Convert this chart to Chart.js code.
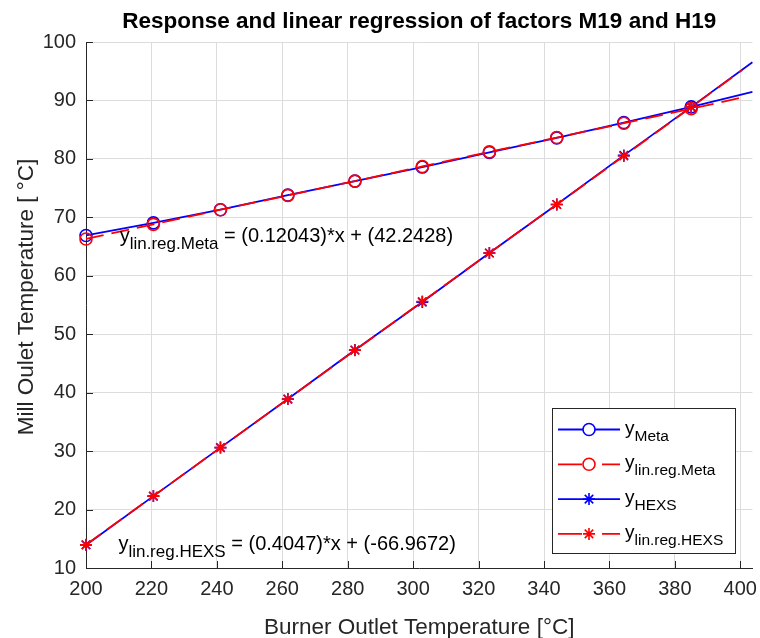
<!DOCTYPE html>
<html>
<head>
<meta charset="utf-8">
<script src="https://cdn.jsdelivr.net/npm/chart.js@4.4.0/dist/chart.umd.min.js"></script>
<style>
html,body{margin:0;padding:0;background:#ffffff;}
#wrap{width:760px;height:638px;}
</style>
</head>
<body>
<div id="wrap"><canvas id="c" width="760" height="638"></canvas></div>
<script>
// ---------- data ----------
const xMarkers      = [200, 220.6, 241.1, 261.7, 282.2, 302.8, 323.3, 343.9, 364.4, 385.0];
const xLineEnd      = 403.7;   // measured curves continue to the right edge
const xRegEnd       = 400.6;   // regression lines stop a little earlier
const metaValues    = [66.9, 69.05, 71.3, 73.8, 76.2, 78.6, 81.1, 83.6, 86.2, 88.9, 91.45];
const metaRegValues = [66.3, 68.8, 71.3, 73.75, 76.2, 78.7, 81.2, 83.65, 86.1, 88.6, 90.5];
const hexsValues    = [13.95, 22.3, 30.6, 38.9, 47.3, 55.5, 63.9, 72.2, 80.6, 88.9, 96.55];
const hexsRegValues = [13.97, 22.3, 30.6, 38.9, 47.25, 55.6, 63.9, 72.2, 80.5, 88.85, 95.2];
const xTicks        = [200, 220, 240, 260, 280, 300, 320, 340, 360, 380, 400];
const yTicks        = [10, 20, 30, 40, 50, 60, 70, 80, 90, 100];
const titleText     = 'Response and linear regression of factors M19 and H19';
const xLabelText    = 'Burner Outlet Temperature [°C]';
const yLabelText    = 'Mill Oulet Temperature [ °C]';
const legendItems   = [
  {base: 'y', sub: 'Meta',          color: '#0000ff', marker: 'circle', dashed: false},
  {base: 'y', sub: 'lin.reg.Meta',  color: '#ff0000', marker: 'circle', dashed: true},
  {base: 'y', sub: 'HEXS',          color: '#0000ff', marker: 'star',   dashed: false},
  {base: 'y', sub: 'lin.reg.HEXS',  color: '#ff0000', marker: 'star',   dashed: true}
];
const annotations = [
  {x: 210.3, y: 65.75, base: 'y', sub: 'lin.reg.Meta', rest: ' = (0.12043)*x + (42.2428)'},
  {x: 209.9, y: 13.1,  base: 'y', sub: 'lin.reg.HEXS', rest: ' = (0.4047)*x + (-66.9672)'}
];

// ---------- style ----------
const FF = '"Liberation Sans", Arial, Helvetica, sans-serif';
const AX = '#262626';
const GRID = '#dcdcdc';
const BLUE = '#0000ff', RED = '#ff0000';

function pts(xs, ys) { return ys.map((v, i) => ({x: xs[i], y: v})); }
const xLine = xMarkers.concat([xLineEnd]);
const xReg  = xMarkers.concat([xRegEnd]);
const markR = xMarkers.map(() => 6).concat([0]);

function drawStar(ctx, x, y, r) {
  ctx.beginPath();
  ctx.moveTo(x - r, y); ctx.lineTo(x + r, y);
  ctx.moveTo(x, y - r); ctx.lineTo(x, y + r);
  const d = r * Math.SQRT1_2;
  ctx.moveTo(x - d, y - d); ctx.lineTo(x + d, y + d);
  ctx.moveTo(x - d, y + d); ctx.lineTo(x + d, y - d);
  ctx.stroke();
}
function drawSubText(ctx, x, baseline, base, sub, rest, bSize, sSize, drop) {
  ctx.textAlign = 'left';
  ctx.textBaseline = 'alphabetic';
  ctx.font = bSize + 'px ' + FF;
  ctx.fillText(base, x, baseline);
  x += ctx.measureText(base).width;
  ctx.font = sSize + 'px ' + FF;
  ctx.fillText(sub, x, baseline + drop);
  x += ctx.measureText(sub).width;
  if (rest) {
    ctx.font = bSize + 'px ' + FF;
    ctx.fillText(rest, x, baseline);
  }
}

const decor = {
  id: 'decor',
  beforeDatasetsDraw(chart) {
    const {ctx, chartArea: a, scales: {x, y}} = chart;
    ctx.save();
    ctx.strokeStyle = AX; ctx.lineWidth = 1;
    ctx.beginPath();
    xTicks.forEach(v => { const p = Math.round(x.getPixelForValue(v)) + 0.5; ctx.moveTo(p, a.bottom); ctx.lineTo(p, a.bottom - 7); });
    yTicks.forEach(v => { const p = Math.round(y.getPixelForValue(v)) + 0.5; ctx.moveTo(a.left, p); ctx.lineTo(a.left + 7, p); });
    ctx.stroke();
    ctx.restore();
  },
  afterDraw(chart) {
    const {ctx, chartArea: a, scales: {x, y}} = chart;
    ctx.save();
    ctx.fillStyle = '#000000';
    // title
    ctx.font = 'bold 22.5px ' + FF;
    ctx.textAlign = 'center'; ctx.textBaseline = 'alphabetic';
    ctx.fillText(titleText, (a.left + a.right) / 2, 28);
    // axis labels
    ctx.fillStyle = AX;
    ctx.font = '22.5px ' + FF;
    ctx.fillText(xLabelText, (a.left + a.right) / 2, 634);
    ctx.save();
    ctx.translate(33, (a.top + a.bottom) / 2 - 8);
    ctx.rotate(-Math.PI / 2);
    ctx.fillText(yLabelText, 0, 0);
    ctx.restore();
    // annotations
    ctx.fillStyle = '#000000';
    annotations.forEach(t => {
      drawSubText(ctx, x.getPixelForValue(t.x), y.getPixelForValue(t.y), t.base, t.sub, t.rest, 20, 17, 7);
    });
    // legend
    const L = {left: 552, top: 408, right: 735, bottom: 553};
    ctx.fillStyle = '#ffffff';
    ctx.fillRect(L.left, L.top, L.right - L.left, L.bottom - L.top);
    ctx.strokeStyle = AX; ctx.lineWidth = 1;
    ctx.strokeRect(L.left + 0.5, L.top + 0.5, L.right - L.left, L.bottom - L.top);
    legendItems.forEach((it, i) => {
      const cy = 429.5 + i * 34.8;
      ctx.strokeStyle = it.color; ctx.lineWidth = 1.8;
      ctx.beginPath();
      if (it.dashed) { ctx.moveTo(558, cy); ctx.lineTo(582, cy); ctx.moveTo(602, cy); ctx.lineTo(620, cy); }
      else { ctx.moveTo(558, cy); ctx.lineTo(620, cy); }
      ctx.stroke();
      ctx.lineWidth = 1.6;
      if (it.marker === 'circle') {
        ctx.fillStyle = '#ffffff';
        ctx.beginPath(); ctx.arc(589, cy, 6, 0, Math.PI * 2); ctx.fill(); ctx.stroke();
      } else {
        drawStar(ctx, 589, cy, 6);
      }
      ctx.fillStyle = '#000000';
      drawSubText(ctx, 625, cy + 4, it.base, it.sub, '', 19, 15.5, 7);
    });
    ctx.restore();
  }
};

const ds = (label, xs, ys, color, style, dashed) => ({
  label, data: pts(xs, ys),
  borderColor: color, borderWidth: 1.8, borderDash: dashed ? [18, 8] : [],
  pointStyle: style, pointRadius: markR, pointHoverRadius: markR,
  pointBorderColor: color, pointBackgroundColor: 'rgba(0,0,0,0)', pointBorderWidth: 1.6,
  tension: 0, fill: false, clip: 10, order: dashed ? 0 : 1
});

new Chart(document.getElementById('c'), {
  type: 'line',
  data: {
    datasets: [
      ds('y_Meta', xLine, metaValues, BLUE, 'circle', false),
      ds('y_lin.reg.Meta', xReg, metaRegValues, RED, 'circle', true),
      ds('y_HEXS', xLine, hexsValues, BLUE, 'star', false),
      ds('y_lin.reg.HEXS', xReg, hexsRegValues, RED, 'star', true)
    ]
  },
  options: {
    responsive: false, animation: false, devicePixelRatio: 1,
    layout: {padding: {top: 42, right: 5, left: 0, bottom: 0}},
    plugins: {legend: {display: false}, title: {display: false}, tooltip: {enabled: false}},
    events: [],
    scales: {
      x: {
        type: 'linear', min: 200, max: xLineEnd,
        afterBuildTicks: s => { s.ticks = xTicks.map(v => ({value: v})); },
        afterFit: s => { s.height = 70; s.paddingLeft = 0; s.paddingRight = 0; },
        grid: {color: GRID, lineWidth: 1, drawTicks: false},
        border: {display: true, color: AX, width: 1},
        ticks: {color: AX, font: {family: FF, size: 20}, padding: 9, maxRotation: 0, autoSkip: false}
      },
      y: {
        type: 'linear', min: 10, max: 100,
        afterBuildTicks: s => { s.ticks = yTicks.map(v => ({value: v})); },
        afterFit: s => { s.width = 86; s.paddingTop = 0; s.paddingBottom = 0; },
        grid: {color: GRID, lineWidth: 1, drawTicks: false},
        border: {display: true, color: AX, width: 1},
        ticks: {color: AX, font: {family: FF, size: 20}, padding: 10, autoSkip: false}
      }
    }
  },
  plugins: [decor]
});
</script>
</body>
</html>
